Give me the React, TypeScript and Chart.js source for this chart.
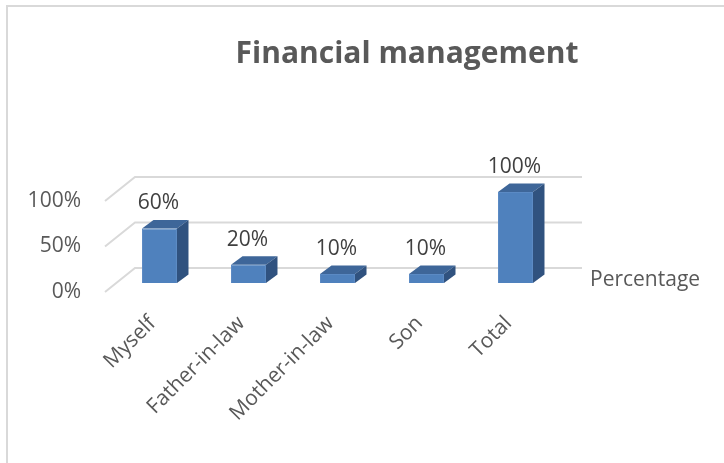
import React, { useEffect, useRef } from "react";
import { Chart, registerables } from "chart.js";

Chart.register(...registerables);

const categories = ["Myself", "Father-in-law", "Mother-in-law", "Son", "Total"];
const percentValues = [0.6, 0.2, 0.1, 0.1, 1.0];
const seriesName = "Percentage";
const chartTitle = "Financial management";
const yTicks = [0, 0.5, 1];

const FONT = "'Open Sans', sans-serif";
const TEXT = "#595959";
const GRID = "#d9d9d9";
const FRONT = "#4f81bd";
const TOP = "#3e6699";
const SIDE = "#30527f";

const DEPTH_DX = 11.5;
const DEPTH_DY = -8.5;

const fmt = (v: number) => Math.round(v * 100) + "%";

const threeD = {
  id: "threeD",
  beforeDatasetsDraw(chart: any) {
    const ctx = chart.ctx;
    const { left, right } = chart.chartArea;
    const y = chart.scales.y;
    ctx.save();
    // outer frame
    ctx.fillStyle = GRID;
    ctx.fillRect(6, 5, 2, chart.height);
    ctx.fillRect(6, 5, chart.width, 2);
    // back wall grid
    ctx.strokeStyle = GRID;
    ctx.lineWidth = 2;
    yTicks.forEach((v) => {
      const py = y.getPixelForValue(v);
      ctx.beginPath();
      ctx.moveTo(left - 10, py + 9);
      ctx.lineTo(left + 20, py - 15);
      ctx.lineTo(right + 22, py - 15);
      ctx.stroke();
    });
    // side and top faces
    const meta = chart.getDatasetMeta(0);
    meta.data.forEach((bar: any) => {
      const x0 = bar.x - bar.width / 2;
      const x1 = bar.x + bar.width / 2;
      const top = bar.y;
      const base = bar.base;
      ctx.fillStyle = TOP;
      ctx.beginPath();
      ctx.moveTo(x0, top);
      ctx.lineTo(x0 + DEPTH_DX, top + DEPTH_DY);
      ctx.lineTo(x1 + DEPTH_DX, top + DEPTH_DY);
      ctx.lineTo(x1, top);
      ctx.closePath();
      ctx.fill();
      ctx.fillStyle = SIDE;
      ctx.beginPath();
      ctx.moveTo(x1, top);
      ctx.lineTo(x1 + DEPTH_DX, top + DEPTH_DY);
      ctx.lineTo(x1 + DEPTH_DX, base + DEPTH_DY);
      ctx.lineTo(x1, base);
      ctx.closePath();
      ctx.fill();
    });
    ctx.restore();
  },
  afterDatasetsDraw(chart: any) {
    const ctx = chart.ctx;
    const meta = chart.getDatasetMeta(0);
    const { right } = chart.chartArea;
    const y = chart.scales.y;
    ctx.save();
    ctx.textAlign = "center";
    ctx.textBaseline = "middle";
    ctx.fillStyle = "#404040";
    ctx.font = `21px ${FONT}`;
    meta.data.forEach((bar: any, i: number) => {
      ctx.fillText(fmt(percentValues[i]), bar.x - 1, bar.y - 25);
    });
    // legend entry
    ctx.fillStyle = TEXT;
    ctx.textAlign = "left";
    ctx.fillText(seriesName, right + 30, y.getPixelForValue(0) - 3);
    // title
    ctx.font = `bold 30px ${FONT}`;
    ctx.textAlign = "center";
    ctx.fillText(chartTitle, 407, 54);
    ctx.restore();
  },
};

export default function App() {
  const ref = useRef<HTMLCanvasElement | null>(null);
  useEffect(() => {
    if (!ref.current) return;
    const chart = new Chart(ref.current, {
      type: "bar",
      data: {
        labels: categories,
        datasets: [
          {
            label: seriesName,
            data: percentValues,
            backgroundColor: FRONT,
            borderColor: "#5b8ac4",
            borderWidth: 1,
            categoryPercentage: 1,
            barPercentage: 0.393,
          },
        ],
      },
      options: {
        animation: false,
        responsive: false,
        layout: { padding: { top: 192, right: 164, left: 0, bottom: 0 } },
        plugins: {
          legend: { display: false },
          title: { display: false },
          tooltip: { enabled: false },
        },
        scales: {
          x: {
            grid: { display: false, drawTicks: false },
            border: { display: false },
            ticks: {
              font: { family: FONT, size: 21 },
              color: TEXT,
              maxRotation: 45,
              minRotation: 45,
              padding: 28,
              labelOffset: -7,
              autoSkip: false,
            },
            afterFit: (s: any) => {
              s.height = 180;
            },
          },
          y: {
            min: 0,
            max: 1,
            grid: { display: false, drawTicks: false },
            border: { display: false },
            ticks: {
              stepSize: 0.5,
              font: { family: FONT, size: 21 },
              color: TEXT,
              padding: 34,
              labelOffset: 9,
              callback: (v: any) => fmt(Number(v)),
            },
            afterFit: (s: any) => {
              s.width = 115;
            },
          },
        },
      },
      plugins: [threeD],
    });
    return () => chart.destroy();
  }, []);
  return (
    <div style={{ position: "fixed", left: 0, top: 0, width: 724, height: 463, background: "#fff" }}>
      <canvas ref={ref} width={724} height={463} />
    </div>
  );
}
